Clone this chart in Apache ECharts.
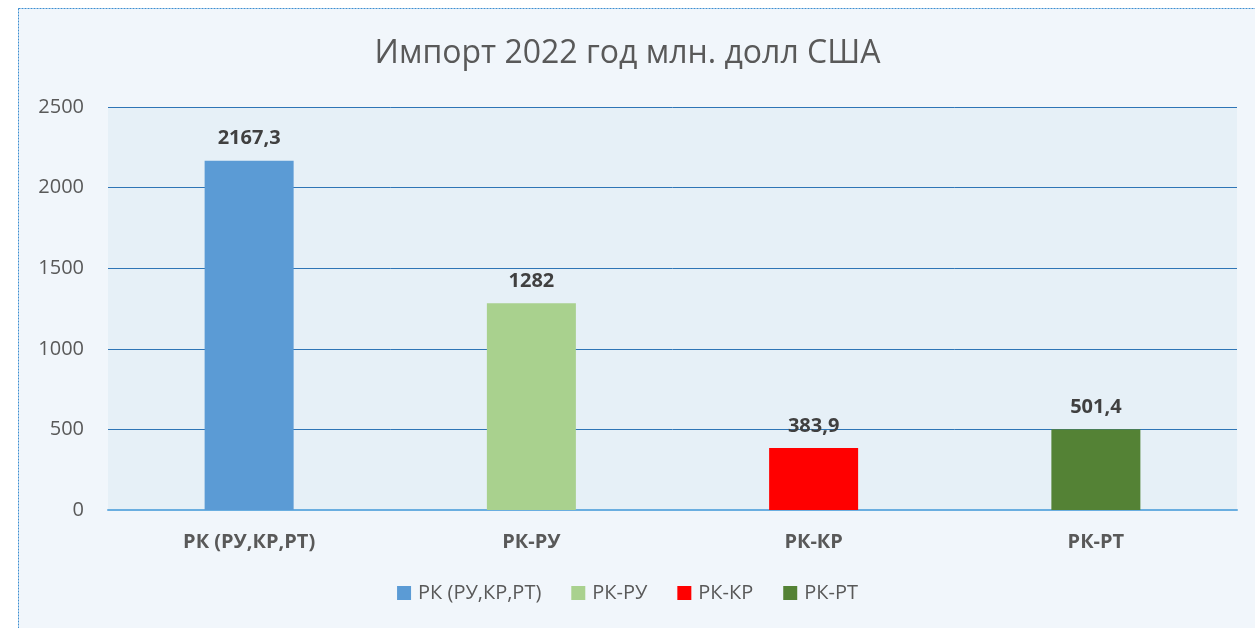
<!DOCTYPE html>
<html>
<head>
<meta charset="utf-8">
<script src="https://cdn.jsdelivr.net/npm/echarts@6/dist/echarts.min.js"></script>
<style>
  html, body { margin: 0; padding: 0; background: #fff; }
  #chart { width: 1255px; height: 628px; }
</style>
</head>
<body>
<div id="chart"></div>
<script>
// данные
const categories = ["РК (РУ,КР,РТ)", "РК-РУ", "РК-КР", "РК-РТ"];
const seriesNames = ["РК (РУ,КР,РТ)", "РК-РУ", "РК-КР", "РК-РТ"];
const values = [2167.3, 1282, 383.9, 501.4];
const colors = ["#5b9bd5", "#a9d18e", "#ff0000", "#548235"];
const yTicks = { min: 0, max: 2500, interval: 500 };

const font = "'Open Sans', 'Noto Sans', sans-serif";

const chart = echarts.init(document.getElementById("chart"));

const series = seriesNames.map(function (name, i) {
  return {
    name: name,
    type: "bar",
    stack: "all",
    barWidth: 89,
    data: values.map(function (v, j) { return j === i ? v : "-"; }),
    itemStyle: { color: colors[i] },
    label: {
      show: true,
      position: "top",
      distance: 12,
      fontFamily: font,
      fontSize: 20,
      fontWeight: "bold",
      color: "#404040",
      formatter: function (p) { return String(p.value).replace(".", ","); },
    },
  };
});

chart.setOption({
  backgroundColor: "#fff",
  animation: false,
  graphic: [
    {
      type: "rect",
      z: -10,
      shape: { x: 18.5, y: 8.5, width: 1400, height: 800 },
      style: { fill: "#f1f6fb", stroke: "#3d8fd1", lineWidth: 1, lineDash: [2, 1] },
    },
  ],
  title: {
    text: "Импорт 2022 год млн. долл США",
    left: "center",
    top: 33,
    textStyle: { fontFamily: font, fontSize: 32, fontWeight: "normal", color: "#595959" },
  },
  grid: {
    left: 108,
    right: 18,
    top: 107,
    bottom: 118,
    show: true,
    backgroundColor: "#e6f0f7",
    borderWidth: 0,
  },
  legend: {
    bottom: 20,
    left: "center",
    itemWidth: 14,
    itemHeight: 14,
    itemGap: 30,
    icon: "rect",
    textStyle: { fontFamily: font, fontSize: 20, color: "#595959", padding: [0, 0, 0, 2] },
    data: seriesNames,
  },
  xAxis: {
    type: "category",
    data: categories,
    axisLine: { lineStyle: { color: "#6aaee0", width: 2 } },
    axisTick: { show: false },
    axisLabel: {
      margin: 22,
      fontFamily: font,
      fontSize: 20,
      fontWeight: "bold",
      color: "#595959",
    },
  },
  yAxis: {
    type: "value",
    min: yTicks.min,
    max: yTicks.max,
    interval: yTicks.interval,
    axisLine: { show: false },
    axisTick: { show: false },
    axisLabel: {
      margin: 24,
      fontFamily: font,
      fontSize: 20,
      color: "#595959",
      formatter: function (v) { return String(v); },
    },
    splitLine: { lineStyle: { color: "#2e75b6", width: 1 } },
  },
  series: series,
});
</script>
</body>
</html>
